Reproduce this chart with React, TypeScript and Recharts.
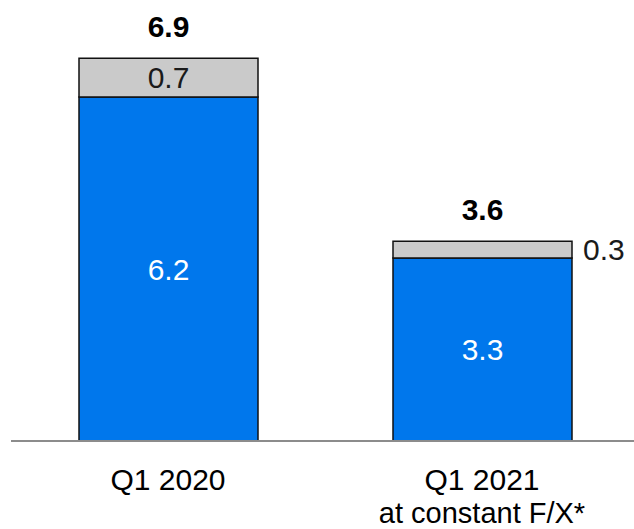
import React from 'react';
import { BarChart, Bar, XAxis, YAxis, LabelList } from 'recharts';

const categories = ['Q1 2020', 'Q1 2021'];
const subLabels = ['', 'at constant F/X*'];
const baseValues = [6.2, 3.3];
const otherValues = [0.7, 0.3];
const totals = [6.9, 3.6];

const data = categories.map((name, i) => ({
  name,
  base: baseValues[i],
  other: otherValues[i],
  total: totals[i],
}));

const FONT = '"Liberation Sans", Arial, sans-serif';
const BLUE = '#0077EC';
const GREY = '#CACACA';

const CategoryTick = (props: any) => {
  const { x, y, payload } = props;
  const sub = subLabels[payload.index];
  return (
    <g>
      <text x={x} y={y + 47} textAnchor="middle" fontSize={30} fontFamily={FONT} fill="#000">
        {payload.value}
      </text>
      {sub && (
        <text x={x} y={y + 80} textAnchor="middle" fontSize={29} fontFamily={FONT} fill="#000">
          {sub}
        </text>
      )}
    </g>
  );
};

// grey segment label: inside when there's room, otherwise to the right
const OtherLabel = (props: any) => {
  const { x, y, width, height, value, index } = props;
  const inside = height > 30;
  const cy = y + height / 2 + 10.5;
  return (
    <text
      x={inside ? x + width / 2 : x + width + 11}
      y={cy}
      textAnchor={inside ? 'middle' : 'start'}
      fontSize={30}
      fontFamily={FONT}
      fill="#1a1a1a"
      key={`o-${index}`}
    >
      {value}
    </text>
  );
};

const TotalLabel = (props: any) => {
  const { x, y, width, index } = props;
  return (
    <text
      x={x + width / 2}
      y={y - 21}
      textAnchor="middle"
      fontSize={30}
      fontWeight="bold"
      fontFamily={FONT}
      fill="#000"
      key={`t-${index}`}
    >
      {totals[index]}
    </text>
  );
};

export default function App() {
  return (
    <div style={{ position: 'absolute', left: 0, top: 0, background: '#fff' }}>
      <BarChart
        width={634}
        height={529}
        data={data}
        margin={{ top: 25, right: -5, left: 11, bottom: 0 }}
        barSize={179}
      >
        <XAxis
          dataKey="name"
          height={88}
          tickLine={false}
          tickSize={0}
          axisLine={{ stroke: '#8c8c8c', strokeWidth: 2 }}
          tick={<CategoryTick />}
          interval={0}
        />
        <YAxis hide domain={[0, 7.5]} />
        <Bar dataKey="base" stackId="a" fill={BLUE} stroke="#111" strokeWidth={1.5} isAnimationActive={false}>
          <LabelList
            dataKey="base"
            position="center"
            fill="#fff"
            fontSize={30}
            fontFamily={FONT}
          />
        </Bar>
        <Bar dataKey="other" stackId="a" fill={GREY} stroke="#111" strokeWidth={1.5} isAnimationActive={false}>
          <LabelList dataKey="other" content={<OtherLabel />} />
          <LabelList dataKey="total" content={<TotalLabel />} />
        </Bar>
      </BarChart>
    </div>
  );
}
